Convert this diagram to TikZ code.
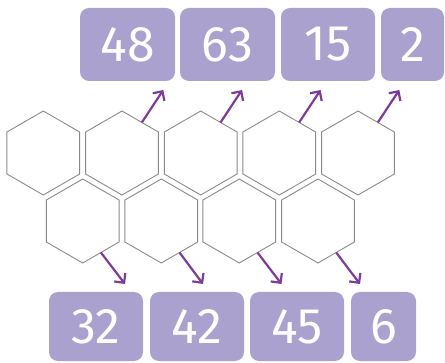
\documentclass[tikz,border=0pt]{standalone}
\usepackage{fontspec}
\setmainfont{Fira Sans}
\usetikzlibrary{shapes.geometric, arrows.meta}
\definecolor{boxlila}{HTML}{ABA1CE}
\definecolor{pfeillila}{HTML}{7D3C98}
\definecolor{hexgrau}{HTML}{8A8A8A}
\begin{document}
\begin{tikzpicture}[x=1pt, y=1pt,
    hex/.style={regular polygon, regular polygon sides=6, shape border rotate=30, minimum size=84pt, inner sep=0pt, outer sep=0pt, draw=hexgrau, line width=0.9pt},
    zahl/.style={fill=boxlila, rounded corners=9pt, text=white, inner sep=0pt, font=\fontsize{50}{50}\selectfont},
    pfeil/.style={-{Straight Barb[length=7pt, width=14pt]}, pfeillila, line width=2.2pt}]
    \useasboundingbox (0,0) rectangle (445,362);
    
    % obere Zahlen
    \node[zahl, minimum width=95pt, minimum height=73pt] (z48) at (127.5,317.5) {48};
    \node[zahl, minimum width=95pt, minimum height=73pt] (z63) at (227.5,317.5) {63};
    \node[zahl, minimum width=94pt, minimum height=73pt] (z15) at (328,317.5) {15};
    \node[zahl, minimum width=63pt, minimum height=73pt] (z2) at (412.5,317.5) {2};
    
    % obere Reihe Sechsecke
    \node[hex] (h1) at (43.3,209) {};
    \node[hex] (h2) at (122,209) {};
    \node[hex] (h3) at (200.7,209) {};
    \node[hex] (h4) at (279.3,209) {};
    \node[hex] (h5) at (358,209) {};
    
    % untere Reihe Sechsecke
    \node[hex] (u1) at (82.7,141) {};
    \node[hex] (u2) at (161.3,141) {};
    \node[hex] (u3) at (239.3,141) {};
    \node[hex] (u4) at (318,141) {};
    
    % untere Zahlen
    \node[zahl, minimum width=94pt, minimum height=69pt] (z32) at (96,35.5) {32};
    \node[zahl, minimum width=94pt, minimum height=69pt] (z42) at (197,35.5) {42};
    \node[zahl, minimum width=94pt, minimum height=69pt] (z45) at (297,35.5) {45};
    \node[zahl, minimum width=65pt, minimum height=69pt] (z6) at (383.5,35.5) {6};
    
    % Pfeilspitzen
    \coordinate (o2) at (163.3,272);
    \coordinate (o3) at (242,272);
    \coordinate (o4) at (320.6,272);
    \coordinate (o5) at (399.3,272);
    \coordinate (n1) at (125,78);
    \coordinate (n2) at (203,78);
    \coordinate (n3) at (281.5,78);
    \coordinate (n4) at (360,78);
    
    % Pfeile nach oben
    \draw[pfeil] (h2.57) -- (o2);
    \draw[pfeil] (h3.57) -- (o3);
    \draw[pfeil] (h4.57) -- (o4);
    \draw[pfeil] (h5.57) -- (o5);
    
    % Pfeile nach unten
    \draw[pfeil] (u1.-60) -- (n1);
    \draw[pfeil] (u2.-60) -- (n2);
    \draw[pfeil] (u3.-60) -- (n3);
    \draw[pfeil] (u4.-60) -- (n4);
\end{tikzpicture}
\end{document}
